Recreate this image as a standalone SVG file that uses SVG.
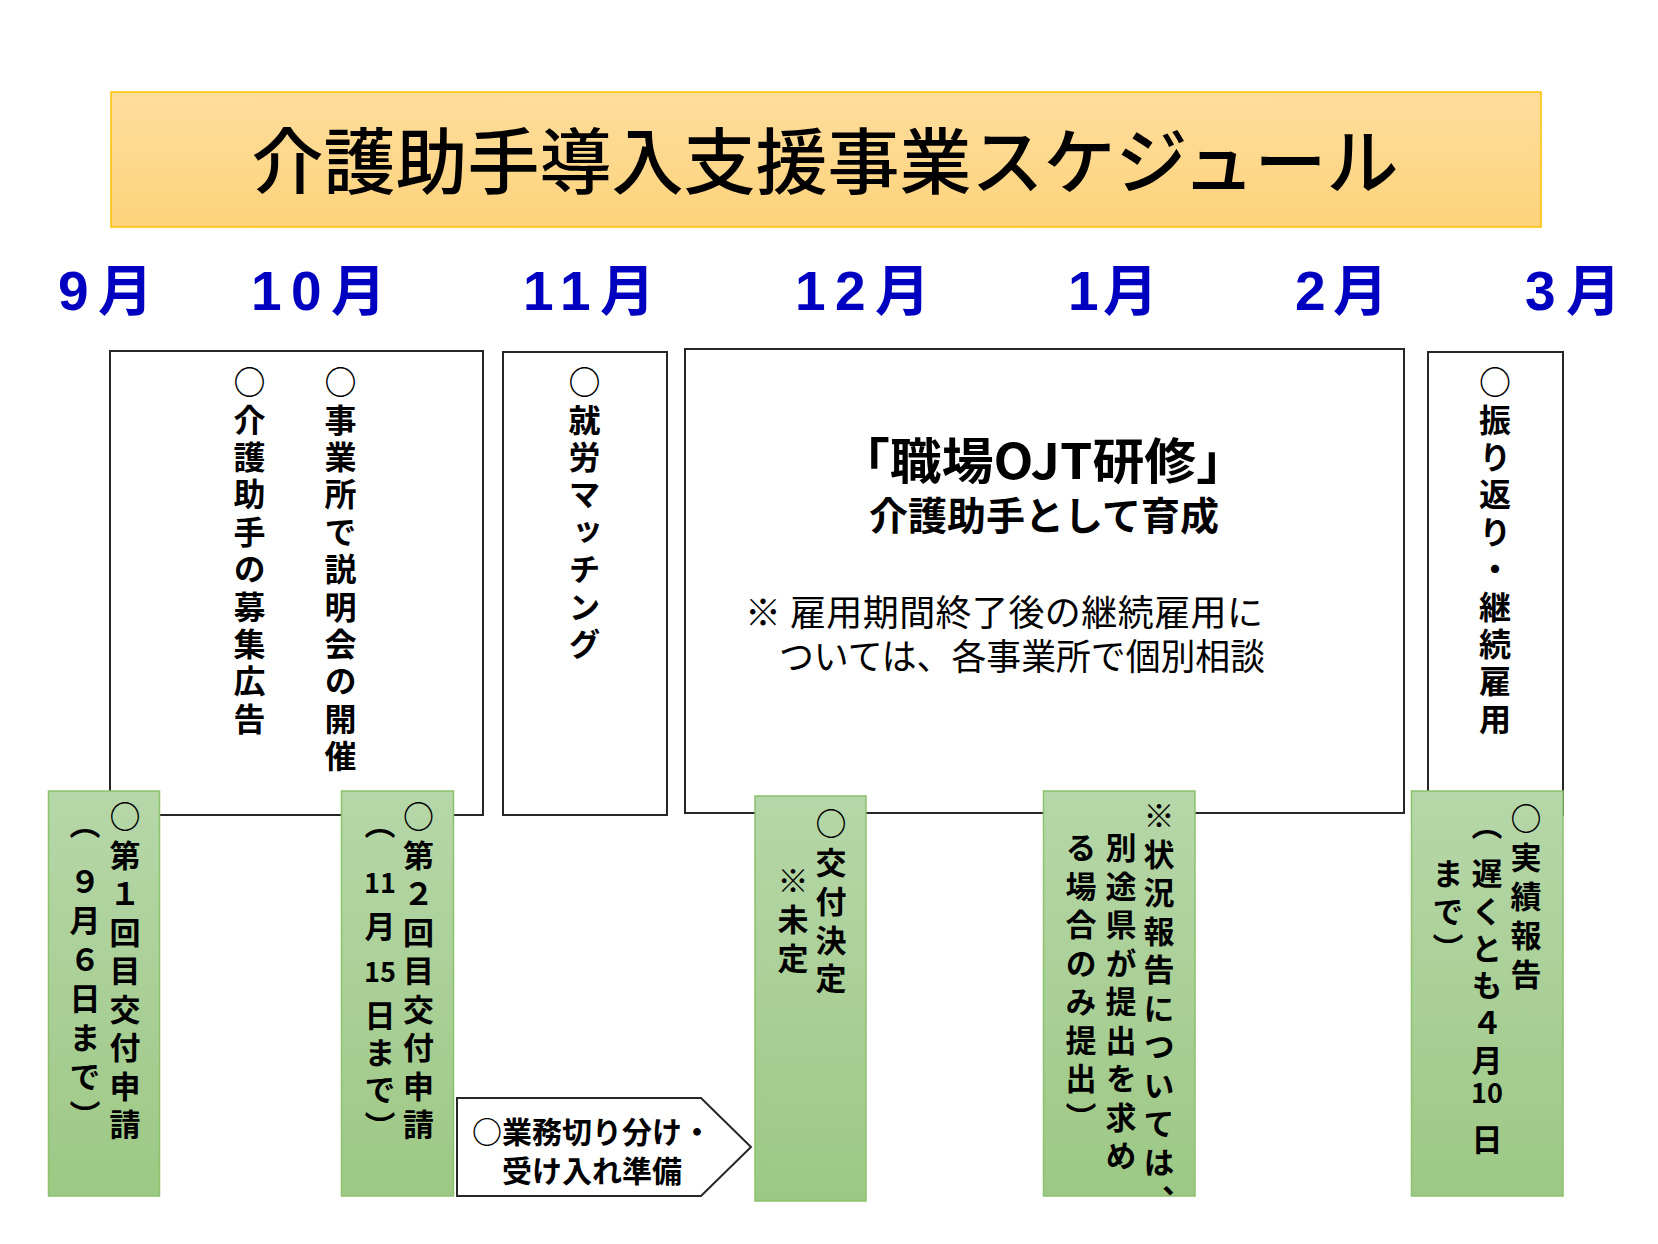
<svg xmlns="http://www.w3.org/2000/svg" width="1658" height="1244" viewBox="0 0 1658 1244">
<defs>
<linearGradient id="gTitle" x1="0" y1="0" x2="0" y2="1"><stop offset="0" stop-color="#FEDE9D"/><stop offset="1" stop-color="#FDD27B"/></linearGradient>
<linearGradient id="gGreen" x1="0" y1="0" x2="0" y2="1"><stop offset="0" stop-color="#B6D7A9"/><stop offset="1" stop-color="#9DC884"/></linearGradient>
<style>
.box{fill:#fff;stroke:#262626;stroke-width:2}
.grn{fill:url(#gGreen);stroke:#8CC16D;stroke-width:1.5}
.v{writing-mode:vertical-rl;font-family:"Noto Sans CJK JP","Noto Sans CJK SC",sans-serif;font-weight:700;font-size:31px;letter-spacing:7.5px;fill:#000}
.vb{font-size:32px;letter-spacing:5.4px}
.hd{font-family:"Noto Sans CJK JP","Noto Sans CJK SC",sans-serif;font-weight:700;font-size:27px;text-anchor:middle;fill:#000}
.mon{font-family:"Liberation Sans","Noto Sans CJK JP",sans-serif;font-weight:700;font-size:55px;fill:#0000C0}
.jp{font-family:"Noto Sans CJK JP","Noto Sans CJK SC",sans-serif;fill:#000}
</style>
</defs>
<rect width="1658" height="1244" fill="#fff"/>

<g id="title">
<rect x="111" y="92" width="1430" height="135" fill="url(#gTitle)" stroke="#FFC000" stroke-width="1.5"/>
<text class="jp" x="825" y="188" font-size="72" font-weight="500" text-anchor="middle">介護助手導入支援事業スケジュール</text>
</g>

<g id="months">
<text class="mon" x="58" y="310" textLength="95" lengthAdjust="spacing">9月</text>
<text class="mon" x="251" y="310" textLength="135" lengthAdjust="spacing">10月</text>
<text class="mon" x="523" y="310" textLength="132" lengthAdjust="spacing">11月</text>
<text class="mon" x="795" y="310" textLength="135" lengthAdjust="spacing">12月</text>
<text class="mon" x="1068" y="310" textLength="90" lengthAdjust="spacing">1月</text>
<text class="mon" x="1295" y="310" textLength="93" lengthAdjust="spacing">2月</text>
<text class="mon" x="1525" y="310" textLength="96" lengthAdjust="spacing">3月</text>
</g>

<g id="connectors"/>

<g id="box-recruit">
<rect class="box" x="110" y="351" width="373" height="464"/>
<text class="v vb" x="249.5" y="366">○介護助手の募集広告</text>
<text class="v vb" x="340.5" y="366">○事業所で説明会の開催</text>
</g>

<g id="box-matching">
<rect class="box" x="503" y="352" width="164" height="463"/>
<text class="v vb" x="584.5" y="366">○就労マッチング</text>
</g>

<g id="box-ojt">
<rect class="box" x="685" y="349" width="719" height="464"/>
<text class="jp" x="838" y="479" font-size="49" font-weight="700" textLength="410" lengthAdjust="spacingAndGlyphs">「職場OJT研修」</text>
<text class="jp" x="1044" y="530" font-size="39" font-weight="700" text-anchor="middle">介護助手として育成</text>
<text class="jp" x="745" y="626" font-size="36" textLength="518" lengthAdjust="spacing">※ 雇用期間終了後の継続雇用に</text>
<text class="jp" x="779" y="670" font-size="36" textLength="486" lengthAdjust="spacingAndGlyphs">ついては、各事業所で個別相談</text>
</g>

<g id="box-review">
<rect class="box" x="1428" y="352" width="135" height="463"/>
<text class="v vb" x="1495" y="366">○振り返り・継続雇用</text>
</g>

<g id="app1">
<rect class="grn" x="48.5" y="791" width="111" height="405"/>
<text class="v" x="125" y="801">○第１回目交付申請</text>
<text class="v" x="85" y="808">（</text>
<text class="v" x="85" y="866" style="letter-spacing:8px">９月６日まで）</text>
</g>

<g id="app2">
<rect class="grn" x="341.5" y="791" width="112" height="405"/>
<text class="v" x="418.5" y="801">○第２回目交付申請</text>
<text class="v" x="380" y="808">（</text>
<text class="hd" x="380" y="893">11</text>
<text class="v" x="380" y="911">月</text>
<text class="hd" x="380" y="982">15</text>
<text class="v" x="380" y="1000" style="letter-spacing:6px">日まで）</text>
</g>

<g id="prep">
<polygon points="457,1098 701,1098 751,1147 701,1196 457,1196" fill="#fff" stroke="#262626" stroke-width="2"/>
<text class="jp" x="592" y="1143" font-size="30" font-weight="700" text-anchor="middle">○業務切り分け・</text>
<text class="jp" x="592" y="1182" font-size="30" font-weight="700" text-anchor="middle">受け入れ準備</text>
</g>

<g id="decision">
<rect class="grn" x="755" y="796" width="111" height="405"/>
<text class="v" x="831" y="808" style="letter-spacing:7.8px">○交付決定</text>
<text class="v" x="793" y="865" style="letter-spacing:7.8px">※未定</text>
</g>

<g id="status">
<rect class="grn" x="1043.5" y="791" width="151.5" height="405"/>
<text class="v" x="1159" y="800">※状況報告については、</text>
<text class="v" x="1121" y="832">別途県が提出を求め</text>
<text class="v" x="1081" y="832">る場合のみ提出）</text>
</g>

<g id="report">
<rect class="grn" x="1411.5" y="791" width="151.5" height="405"/>
<text class="v" x="1526" y="803" style="letter-spacing:8px">○実績報告</text>
<text class="v" x="1487" y="809">（</text>
<text class="v" x="1487" y="858" style="letter-spacing:6.3px">遅くとも４月</text>
<text class="hd" x="1487" y="1103">10</text>
<text class="v" x="1487" y="1124">日</text>
<text class="v" x="1448" y="858" style="letter-spacing:6.3px">まで）</text>
</g>
</svg>
